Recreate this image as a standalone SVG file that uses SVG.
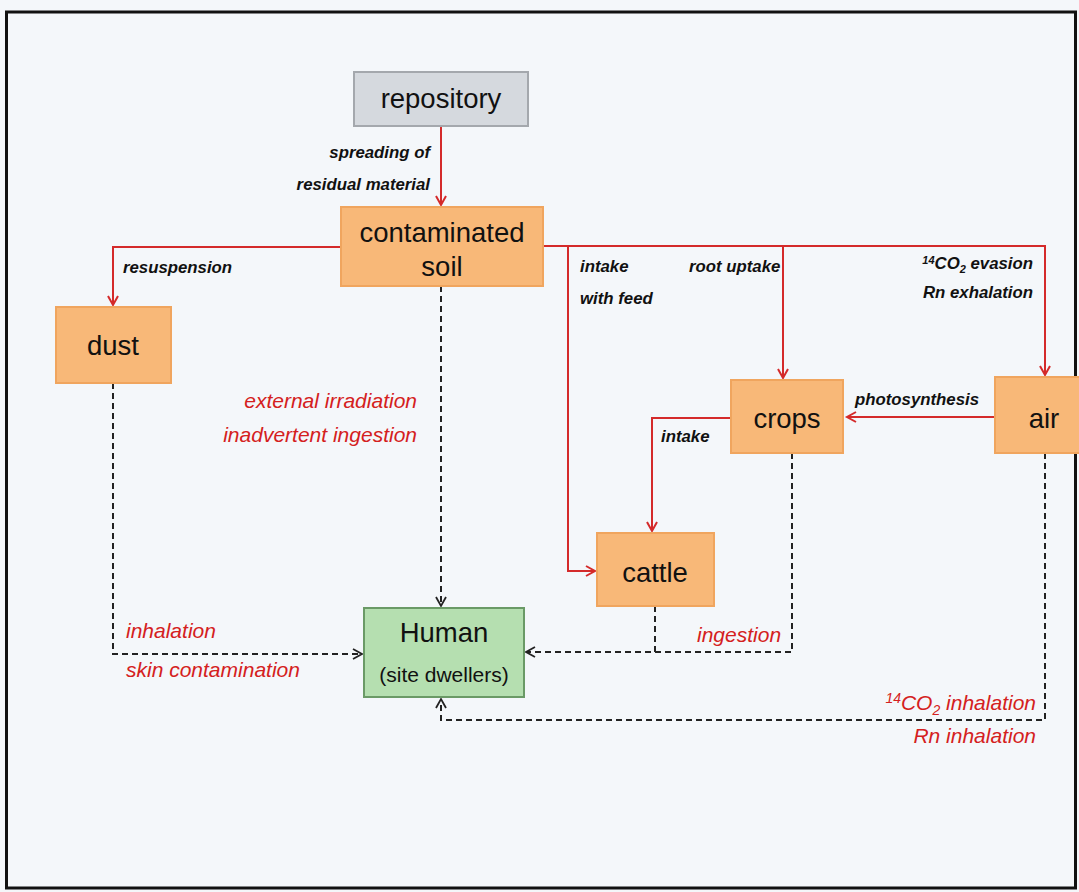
<svg xmlns="http://www.w3.org/2000/svg" width="1079" height="892" viewBox="0 0 1079 892">
<defs>
<marker id="ar" markerWidth="14" markerHeight="14" refX="10" refY="6" orient="auto" markerUnits="userSpaceOnUse">
<path d="M1,1 L10,6 L1,11" fill="none" stroke="#d42a2a" stroke-width="2"/>
</marker>
<marker id="ab" markerWidth="14" markerHeight="14" refX="10" refY="6" orient="auto" markerUnits="userSpaceOnUse">
<path d="M1,1 L10,6 L1,11" fill="none" stroke="#222" stroke-width="1.8"/>
</marker>
<style>
.box{fill:#f8b878;stroke:#f0a55e;stroke-width:2}
.nt{font-family:"Liberation Sans",Arial,sans-serif;font-size:27.5px;fill:#111;text-anchor:middle}
.sm{font-size:21px}
.lb{font-family:"Liberation Sans",Arial,sans-serif;font-size:16.8px;font-style:italic;font-weight:bold;fill:#111}
.rl{font-family:"Liberation Sans",Arial,sans-serif;font-size:21px;font-style:italic;fill:#d42020}
.red{fill:none;stroke:#d42a2a;stroke-width:2}
.dash{fill:none;stroke:#222;stroke-width:2;stroke-dasharray:6,4}
</style>
</defs>
<rect x="0" y="0" width="1079" height="892" fill="#f4f7fa"/>
<rect x="6.5" y="12" width="1069" height="876" fill="none" stroke="#111" stroke-width="3"/>

<g id="connectors">
<path class="red" d="M441,126 V205" marker-end="url(#ar)"/>
<path class="red" d="M341,247 H113 V305" marker-end="url(#ar)"/>
<path class="red" d="M543,246 H1045 V375" marker-end="url(#ar)"/>
<path class="red" d="M568,246 V571 H595" marker-end="url(#ar)"/>
<path class="red" d="M783,246 V378" marker-end="url(#ar)"/>
<path class="red" d="M995,417 H847" marker-end="url(#ar)"/>
<path class="red" d="M731,418 H652 V531" marker-end="url(#ar)"/>
<path class="dash" d="M113,383 V654 H362" marker-end="url(#ab)"/>
<path class="dash" d="M441,286 V606" marker-end="url(#ab)"/>
<path class="dash" d="M655,606 V652"/>
<path class="dash" d="M792,453 V652 H526" marker-end="url(#ab)"/>
<path class="dash" d="M1045,453 V720 H441 V699" marker-end="url(#ab)"/>
<text class="lb" text-anchor="end" x="430" y="158">spreading of</text>
<text class="lb" text-anchor="end" x="430" y="190">residual material</text>
<text class="lb" x="123" y="273">resuspension</text>
<text class="lb" x="580" y="272">intake</text>
<text class="lb" x="580" y="304">with feed</text>
<text class="lb" x="689" y="272">root uptake</text>
<text class="lb" text-anchor="end" x="1033" y="269"><tspan font-size="11" dy="-5">14</tspan><tspan dy="5">CO</tspan><tspan font-size="11" dy="4">2</tspan><tspan dy="-4"> evasion</tspan></text>
<text class="lb" text-anchor="end" x="1033" y="298">Rn exhalation</text>
<text class="lb" x="855" y="405">photosynthesis</text>
<text class="lb" x="661" y="442">intake</text>
<text class="rl" text-anchor="end" x="417" y="408">external irradiation</text>
<text class="rl" text-anchor="end" x="417" y="442">inadvertent ingestion</text>
<text class="rl" x="126" y="638">inhalation</text>
<text class="rl" x="126" y="677">skin contamination</text>
<text class="rl" x="697" y="642">ingestion</text>
<text class="rl" text-anchor="end" x="1036" y="710"><tspan font-size="14" dy="-7">14</tspan><tspan dy="7">CO</tspan><tspan font-size="14" dy="5">2</tspan><tspan dy="-5"> inhalation</tspan></text>
<text class="rl" text-anchor="end" x="1036" y="743">Rn inhalation</text>
</g>

<g id="repository">
<rect x="354" y="72" width="174" height="54" fill="#d5d9de" stroke="#a4a8ad" stroke-width="2"/>
<text class="nt" x="441" y="108">repository</text>
</g>
<g id="soil">
<rect class="box" x="341" y="207" width="202" height="79"/>
<text class="nt" x="442" y="242">contaminated</text>
<text class="nt" x="442" y="276">soil</text>
</g>
<g id="dust">
<rect class="box" x="56" y="307" width="115" height="76"/>
<text class="nt" x="113" y="355">dust</text>
</g>
<g id="crops">
<rect class="box" x="731" y="380" width="112" height="73"/>
<text class="nt" x="787" y="428">crops</text>
</g>
<g id="air">
<rect class="box" x="995" y="377" width="90" height="76"/>
<text class="nt" x="1044" y="428">air</text>
</g>
<g id="cattle">
<rect class="box" x="597" y="533" width="117" height="73"/>
<text class="nt" x="655" y="582">cattle</text>
</g>
<g id="human">
<rect x="364" y="608" width="160" height="89" fill="#b5dfb0" stroke="#6a9a66" stroke-width="2"/>
<text class="nt" x="444" y="642">Human</text>
<text class="nt sm" x="444" y="682">(site dwellers)</text>
</g>
</svg>
